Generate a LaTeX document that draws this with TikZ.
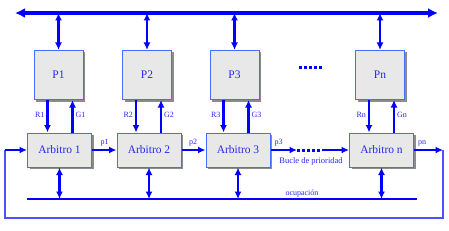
\documentclass[tikz,border=0pt]{standalone}
\usepackage{fontspec}
\setmainfont{Liberation Serif}
\usetikzlibrary{arrows.meta,shadows,calc}
\definecolor{bblue}{RGB}{0,0,255}
\definecolor{edgeblue}{RGB}{70,110,255}
\definecolor{boxgray}{RGB}{232,232,232}
\definecolor{txtblue}{RGB}{40,40,240}
\definecolor{loopblue}{RGB}{80,80,255}
\tikzset{
  procbox/.style={draw=edgeblue, line width=1pt, fill=boxgray, minimum width=49pt, minimum height=49pt,
    inner sep=0pt, font=\fontsize{11.5}{12}\selectfont, text=txtblue,
    drop shadow={shadow xshift=2pt, shadow yshift=-2pt, fill=black!45, opacity=1}},
  arbbox/.style={procbox, minimum width=64pt, minimum height=34pt},
  tip/.style={-{Latex[length=7.5pt,width=7pt]}},
  dtip/.style={{Latex[length=7.5pt,width=7pt]}-{Latex[length=7.5pt,width=7pt]}},
  lbl/.style={font=\fontsize{8}{9}\selectfont, text=txtblue, inner sep=1pt},
  wire/.style={draw=bblue, line width=2.2pt},
}
\begin{document}
\begin{tikzpicture}[x=1pt,y=-1pt]
\useasboundingbox (0,0) rectangle (449,230);
% bus
\coordinate (busL) at (15,13);
\coordinate (busR) at (438,13);
\draw[wire, line width=3.4pt, {Latex[length=10pt,width=10pt]}-{Latex[length=10pt,width=10pt]}] (busL) -- (busR);
% processors
\node[procbox] (P1) at (58.5,75) {P1};
\node[procbox] (P2) at (147,75) {P2};
\node[procbox] (P3) at (234.5,75) {P3};
\node[procbox] (Pn) at (380,75) {Pn};
\coordinate (pd1) at (299,67);
\coordinate (pd2) at (323,67);
\draw[bblue, line width=3pt, dash pattern=on 3pt off 2pt] (pd1) -- (pd2);
% arbiters
\node[arbbox] (A1) at (59.5,150) {Arbitro 1};
\node[arbbox] (A2) at (149,150) {Arbitro 2};
\node[arbbox] (A3) at (238,150) {Arbitro 3};
\node[arbbox] (An) at (381.5,150) {Arbitro n};
% bus to processors
\foreach \p in {P1,P2,P3,Pn}{
  \draw[wire, line width=2.8pt, dtip] (\p.north |- busL) -- (\p.north);
}
% request / grant lines
\foreach \p/\a/\r/\g in {P1/A1/R1/G1,P2/A2/R2/G2,P3/A3/R3/G3,Pn/An/Rn/Gn}{
  \draw[wire, tip] ([xshift=-11pt]\p.south) -- ([xshift=-11pt]\p.south |- \a.north)
     node[lbl, pos=0.45, left=1pt] {\r};
  \draw[wire, tip] ([xshift=14pt]\p.south |- \a.north) -- ([xshift=14pt]\p.south)
     node[lbl, pos=0.55, right=1pt] {\g};
}
% priority chain
\draw[wire, tip] (A1.east) -- (A2.west) node[lbl, pos=0.1, anchor=south west, xshift=4pt, yshift=2pt] {p1};
\draw[wire, tip] (A2.east) -- (A3.west) node[lbl, pos=0.1, anchor=south west, xshift=3pt, yshift=2pt] {p2};
\coordinate (cd1) at (297,150);
\coordinate (cd2) at (322,150);
\draw[wire, tip] (A3.east) -- (cd1) node[lbl, pos=0, anchor=south west, xshift=2pt, yshift=2pt] {p3};
\draw[bblue, line width=3pt, dash pattern=on 3pt off 2pt] (cd1) -- (cd2);
\draw[wire, tip] (cd2) -- (An.west);
\node[lbl, font=\fontsize{8.5}{9}\selectfont] (bucle) at (311,161.5) {Bucle de prioridad};
% loop back
\coordinate (fR) at (443,150);
\coordinate (fBR) at (443,218);
\coordinate (fBL) at (5,218);
\coordinate (fL) at (5,150);
\draw[wire, tip] (An.east) -- (fR) node[lbl, pos=0, anchor=south west, xshift=2pt, yshift=2pt] {pn};
\draw[loopblue, line width=1.1pt] (fR) -- (fBR) -- (fBL) -- (fL);
\draw[wire, tip] (fL) -- (A1.west);
% occupation line
\coordinate (oL) at (27,199);
\coordinate (oR) at (417,199);
\draw[bblue, line width=1.3pt] (oL) -- (oR);
\node[lbl, font=\fontsize{8}{9}\selectfont, anchor=south] (ocup) at (302,198) {ocupación};
\foreach \a in {A1,A2,A3,An}{
  \draw[wire, dtip] (\a.south) -- (\a.south |- oL);
}
\end{tikzpicture}
\end{document}
